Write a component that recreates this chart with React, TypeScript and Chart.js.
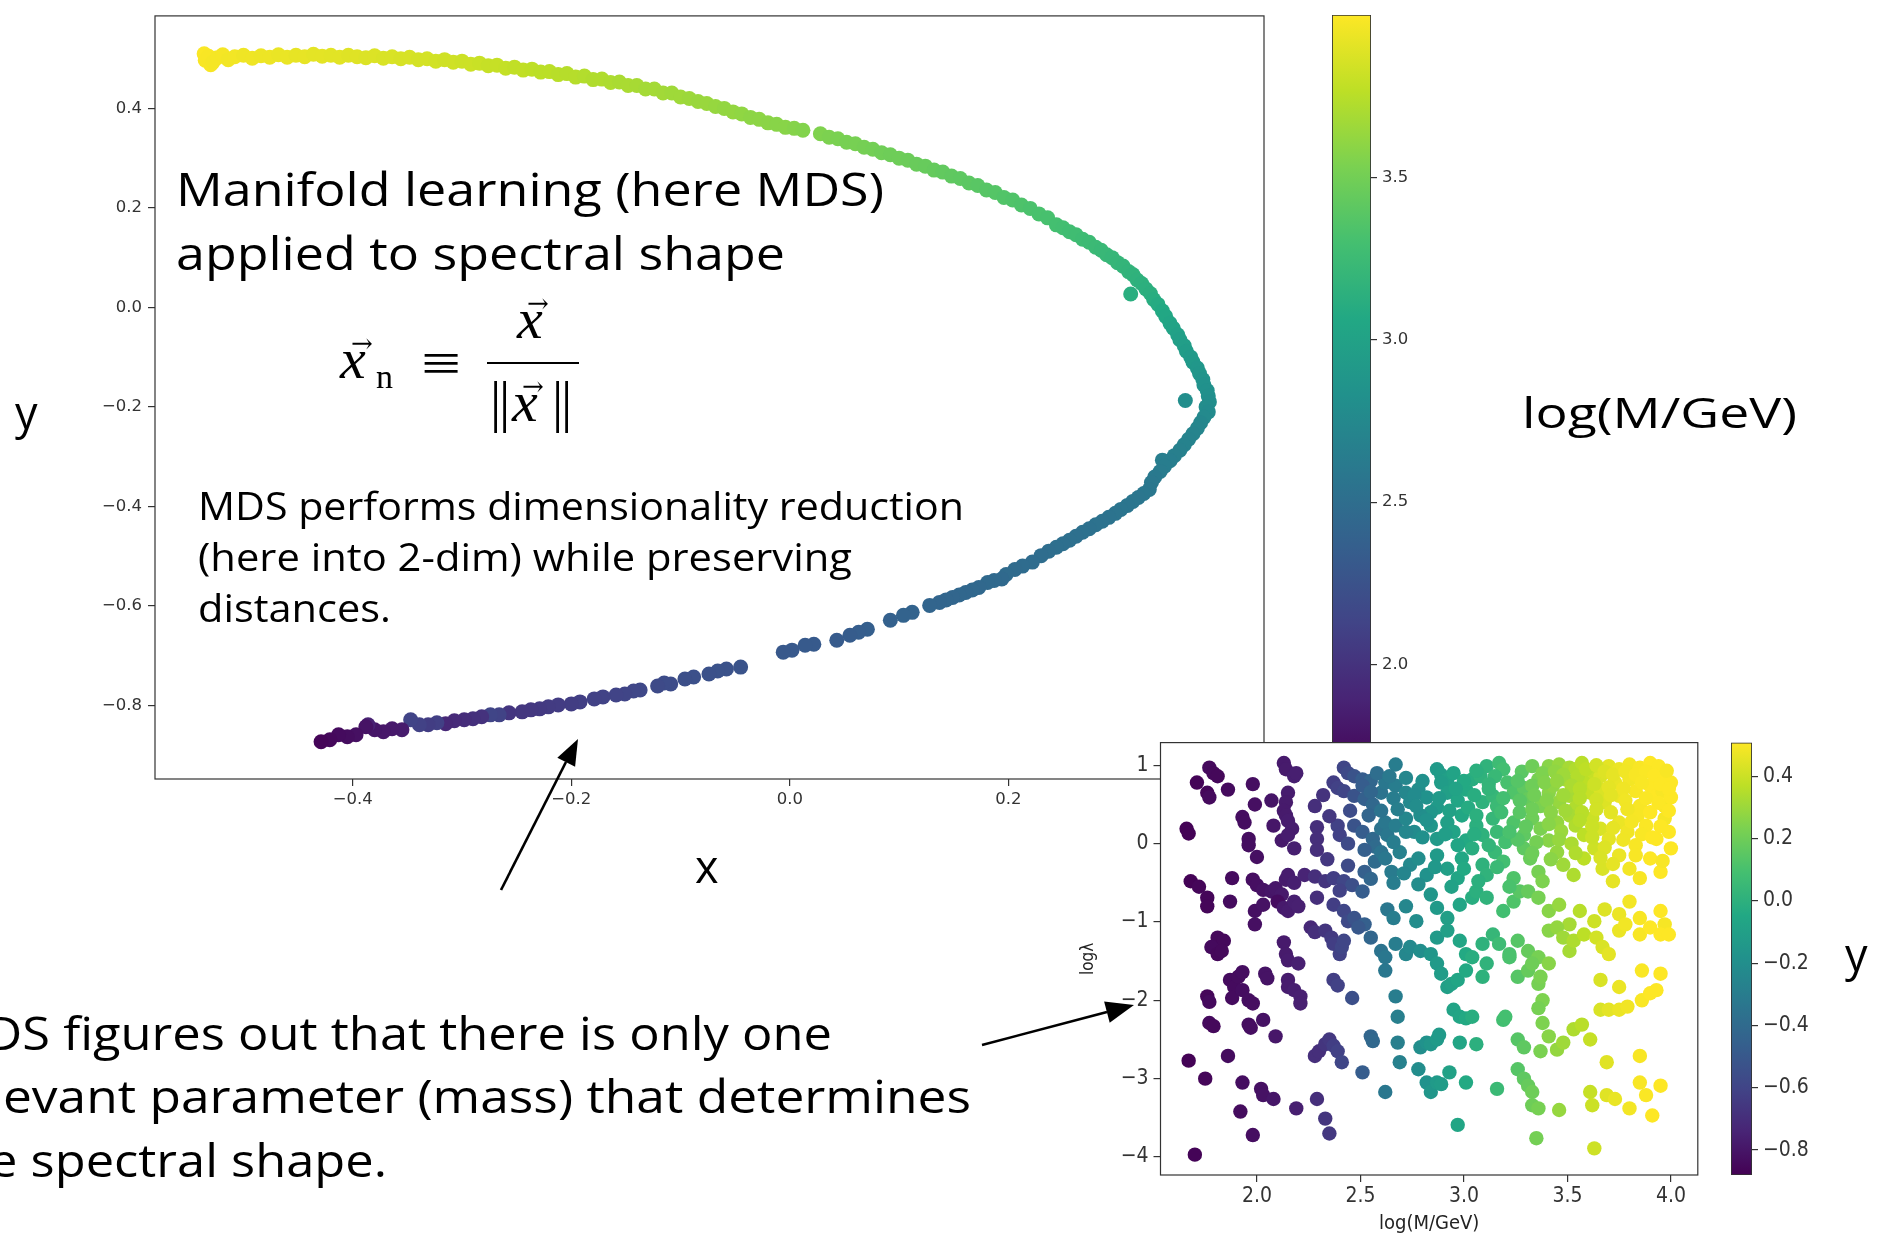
import React, { useEffect, useRef } from 'react';
import { Chart, registerables } from 'chart.js';
Chart.register(...registerables);

// ---------- DATA ----------
// MDS embedding: [x, y, log(M/GeV)]
const mdsPoints: [number, number, number][] = [
  [-0.536,0.510,3.99],[-0.535,0.497,3.98],[-0.532,0.505,3.98],[-0.530,0.488,3.98],[-0.528,0.493,3.97],[-0.524,0.502,3.97],[-0.519,0.508,3.97],[-0.514,0.498,3.96],[-0.508,0.504,3.96],[-0.500,0.507,3.95],
  [-0.492,0.501,3.95],[-0.484,0.506,3.94],[-0.476,0.503,3.94],[-0.468,0.508,3.93],[-0.460,0.503,3.93],[-0.452,0.507,3.92],[-0.444,0.504,3.92],[-0.436,0.509,3.91],[-0.428,0.505,3.91],[-0.420,0.507,3.90],
  [-0.412,0.503,3.90],[-0.404,0.507,3.89],[-0.396,0.504,3.89],[-0.388,0.502,3.88],[-0.380,0.506,3.88],[-0.372,0.501,3.87],[-0.364,0.504,3.87],[-0.356,0.500,3.86],[-0.348,0.503,3.86],[-0.340,0.498,3.85],
  [-0.332,0.500,3.85],[-0.324,0.495,3.84],[-0.316,0.498,3.83],[-0.308,0.493,3.83],[-0.300,0.495,3.82],[-0.292,0.489,3.82],[-0.284,0.491,3.81],[-0.276,0.486,3.80],[-0.268,0.487,3.80],[-0.260,0.481,3.79],
  [-0.252,0.483,3.78],[-0.244,0.477,3.78],[-0.236,0.479,3.77],[-0.228,0.473,3.76],[-0.220,0.474,3.76],[-0.212,0.468,3.75],[-0.204,0.470,3.74],[-0.196,0.463,3.74],[-0.188,0.465,3.73],[-0.180,0.458,3.72],
  [-0.172,0.459,3.72],[-0.164,0.452,3.71],[-0.156,0.453,3.70],[-0.148,0.446,3.70],[-0.140,0.446,3.69],[-0.132,0.439,3.68],[-0.124,0.439,3.68],[-0.116,0.431,3.67],[-0.108,0.431,3.66],[-0.100,0.423,3.66],
  [-0.092,0.420,3.65],[-0.084,0.414,3.64],[-0.076,0.410,3.64],[-0.068,0.404,3.63],[-0.060,0.400,3.62],[-0.052,0.393,3.62],[-0.044,0.389,3.61],[-0.036,0.382,3.60],[-0.028,0.378,3.60],[-0.020,0.371,3.59],
  [-0.012,0.368,3.58],[-0.004,0.362,3.58],[0.004,0.360,3.57],[0.012,0.356,3.56],[0.028,0.349,3.55],[0.036,0.342,3.54],[0.044,0.339,3.53],[0.052,0.332,3.52],[0.060,0.329,3.52],[0.068,0.322,3.51],
  [0.076,0.318,3.50],[0.084,0.311,3.49],[0.092,0.307,3.48],[0.100,0.300,3.48],[0.108,0.296,3.47],[0.116,0.288,3.46],[0.124,0.284,3.45],[0.132,0.276,3.44],[0.140,0.272,3.43],[0.148,0.264,3.42],
  [0.156,0.259,3.41],[0.164,0.250,3.40],[0.172,0.245,3.39],[0.180,0.236,3.38],[0.188,0.231,3.37],[0.196,0.221,3.36],[0.204,0.216,3.35],[0.212,0.206,3.34],[0.220,0.199,3.33],[0.228,0.188,3.32],
  [0.236,0.180,3.31],[0.244,0.166,3.30],[0.250,0.160,3.29],[0.256,0.152,3.28],[0.262,0.146,3.27],[0.268,0.137,3.26],[0.274,0.131,3.25],[0.280,0.121,3.24],[0.285,0.115,3.23],[0.290,0.106,3.22],
  [0.295,0.100,3.21],[0.300,0.090,3.20],[0.305,0.083,3.19],[0.310,0.072,3.18],[0.314,0.066,3.17],[0.318,0.055,3.16],[0.322,0.048,3.15],[0.326,0.037,3.14],[0.330,0.028,3.13],[0.312,0.027,3.12],
  [0.333,0.016,3.11],[0.337,0.006,3.09],[0.341,-0.007,3.07],[0.344,-0.018,3.05],[0.348,-0.032,3.03],[0.351,-0.042,3.01],[0.355,-0.055,2.99],[0.357,-0.065,2.97],[0.361,-0.077,2.96],[0.363,-0.088,2.94],
  [0.367,-0.100,2.92],[0.369,-0.110,2.91],[0.373,-0.122,2.89],[0.375,-0.133,2.88],[0.378,-0.145,2.86],[0.379,-0.156,2.84],[0.382,-0.167,2.83],[0.383,-0.178,2.82],[0.384,-0.190,2.80],[0.362,-0.187,2.80],
  [0.381,-0.200,2.79],[0.383,-0.210,2.77],[0.379,-0.221,2.76],[0.376,-0.232,2.74],[0.373,-0.243,2.73],[0.369,-0.254,2.71],[0.365,-0.265,2.70],[0.361,-0.276,2.69],[0.357,-0.287,2.68],[0.352,-0.298,2.66],
  [0.348,-0.308,2.65],[0.341,-0.307,2.65],[0.343,-0.319,2.64],[0.339,-0.330,2.63],[0.334,-0.341,2.61],[0.331,-0.352,2.60],[0.329,-0.366,2.59],[0.324,-0.374,2.59],[0.319,-0.382,2.58],[0.314,-0.390,2.58],
  [0.309,-0.398,2.57],[0.303,-0.406,2.57],[0.298,-0.414,2.56],[0.292,-0.422,2.55],[0.286,-0.430,2.54],[0.280,-0.437,2.54],[0.274,-0.445,2.53],[0.268,-0.452,2.53],[0.262,-0.460,2.52],[0.256,-0.468,2.52],
  [0.250,-0.475,2.51],[0.244,-0.482,2.51],[0.237,-0.490,2.50],[0.230,-0.499,2.49],[0.222,-0.512,2.48],[0.213,-0.520,2.48],[0.206,-0.527,2.47],[0.198,-0.537,2.47],[0.194,-0.546,2.46],[0.187,-0.549,2.46],
  [0.181,-0.553,2.46],[0.173,-0.563,2.45],[0.167,-0.568,2.45],[0.161,-0.573,2.44],[0.155,-0.578,2.44],[0.149,-0.583,2.43],[0.143,-0.588,2.43],[0.137,-0.593,2.42],[0.128,-0.599,2.42],[0.112,-0.613,2.40],
  [0.104,-0.619,2.40],[0.092,-0.629,2.38],[0.071,-0.647,2.36],[0.063,-0.653,2.35],[0.055,-0.659,2.34],[0.043,-0.669,2.33],[0.022,-0.677,2.32],[0.014,-0.679,2.32],[0.002,-0.689,2.31],[-0.006,-0.693,2.30],
  [-0.045,-0.723,2.26],[-0.058,-0.727,2.25],[-0.066,-0.731,2.25],[-0.074,-0.737,2.24],[-0.088,-0.743,2.23],[-0.096,-0.747,2.22],[-0.109,-0.757,2.20],[-0.115,-0.755,2.20],[-0.121,-0.761,2.18],[-0.137,-0.769,2.16],
  [-0.143,-0.771,2.15],[-0.151,-0.777,2.14],[-0.159,-0.779,2.13],[-0.171,-0.783,2.12],[-0.179,-0.787,2.11],[-0.192,-0.793,2.09],[-0.200,-0.797,2.08],[-0.212,-0.799,2.07],[-0.221,-0.803,2.06],[-0.229,-0.807,2.05],
  [-0.237,-0.809,2.04],[-0.245,-0.813,2.03],[-0.257,-0.815,2.02],[-0.266,-0.819,2.12],[-0.274,-0.819,2.14],[-0.282,-0.823,2.00],[-0.290,-0.827,1.98],[-0.298,-0.829,1.96],[-0.307,-0.831,1.94],[-0.315,-0.837,1.92],
  [-0.323,-0.835,2.10],[-0.331,-0.839,2.08],[-0.339,-0.839,2.11],[-0.347,-0.829,2.13],[-0.355,-0.849,1.84],[-0.364,-0.847,1.82],[-0.372,-0.853,1.81],[-0.380,-0.849,1.80],[-0.386,-0.839,1.88],[-0.388,-0.843,1.78],
  [-0.397,-0.859,1.76],[-0.405,-0.863,1.74],[-0.413,-0.859,1.73],[-0.421,-0.869,1.71],[-0.429,-0.873,1.69],
];

// Parameter scan: [log(M/GeV), log lambda]
const insetPoints: [number, number][] = [
  [1.71,0.78],[1.77,0.97],[1.79,0.90],[1.81,0.86],[2.13,1.03],[2.14,0.95],[2.18,0.86],[2.19,0.90],[2.42,0.97],[2.44,0.90],[2.47,0.86],[2.51,0.82],[2.55,0.80],[2.67,1.01],[2.87,0.95],[2.89,0.88],[2.92,0.82],[2.89,0.78],[3.11,0.99],[3.17,1.03],[3.19,0.95],[3.15,0.86],[3.41,0.99],[3.46,1.01],[3.51,0.97],[3.54,0.95],[3.57,1.03],[3.61,0.90],[3.66,0.86],[3.70,0.99],[3.75,0.95],[3.80,1.01],[3.85,0.97],[3.90,1.03],[3.94,0.99],[3.95,0.86],[4.00,0.78],
  [1.76,0.65],[1.77,0.59],[1.86,0.69],[1.98,0.76],[1.99,0.50],[2.07,0.55],[2.15,0.65],[2.14,0.53],[2.13,0.42],[2.28,0.48],[2.37,0.78],[2.39,0.71],[2.42,0.67],[2.47,0.61],[2.51,0.74],[2.52,0.57],[2.56,0.50],[2.60,0.65],[2.62,0.78],[2.67,0.74],[2.72,0.65],[2.74,0.53],[2.78,0.69],[2.82,0.59],[2.87,0.46],[2.84,0.40],[2.92,0.65],[2.97,0.55],[3.01,0.69],[3.04,0.82],[3.08,0.86],[3.09,0.53],[3.14,0.61],[3.16,0.48],[3.21,0.78],[3.24,0.65],[3.29,0.71],[3.31,0.57],[3.36,0.82],[3.37,0.48],[3.41,0.65],[3.43,0.74],[3.46,0.53],[3.49,0.82],[3.51,0.61],[3.54,0.46],[3.58,0.78],[3.61,0.65],[3.66,0.69],[3.68,0.53],[3.73,0.78],[3.75,0.61],[3.80,0.82],[3.83,0.67],[3.85,0.48],[3.90,0.74],[3.93,0.61],[3.96,0.67],[3.97,0.48],[4.00,0.59],
  [1.66,0.19],[1.67,0.13],[1.93,0.34],[1.94,0.27],[1.96,0.06],[1.96,-0.02],[2.00,-0.17],[2.08,0.23],[2.12,0.04],[2.14,0.36],[2.15,0.29],[2.17,0.19],[2.15,0.11],[2.18,-0.06],[2.29,0.21],[2.29,0.06],[2.29,-0.08],[2.39,0.23],[2.40,0.11],[2.44,0.00],[2.47,0.23],[2.51,0.15],[2.56,0.06],[2.57,-0.04],[2.60,0.19],[2.62,0.27],[2.63,0.11],[2.67,0.23],[2.72,0.32],[2.76,0.15],[2.79,0.36],[2.84,0.23],[2.87,0.06],[2.92,0.27],[2.95,0.15],[2.99,0.36],[3.01,0.04],[3.06,0.23],[3.09,0.11],[3.14,0.32],[3.16,0.15],[3.20,0.02],[3.24,0.27],[3.29,0.11],[3.33,0.32],[3.37,0.19],[3.41,0.04],[3.45,0.27],[3.51,0.36],[3.54,0.23],[3.58,0.11],[3.62,0.32],[3.66,0.19],[3.70,0.06],[3.75,0.27],[3.79,0.15],[3.84,0.36],[3.88,0.23],[3.93,0.06],[3.97,0.32],[3.99,0.15],
  [1.68,-0.48],[1.72,-0.55],[1.88,-0.44],[1.98,-0.46],[2.00,-0.53],[2.03,-0.59],[2.07,-0.61],[2.09,-0.57],[2.12,-0.65],[2.14,-0.46],[2.15,-0.40],[2.18,-0.50],[2.23,-0.40],[2.28,-0.42],[2.33,-0.48],[2.37,-0.44],[2.42,-0.48],[2.46,-0.53],[2.51,-0.61],[2.52,-0.36],[2.57,-0.23],[2.60,-0.11],[2.62,-0.19],[2.65,-0.36],[2.69,-0.11],[2.74,-0.27],[2.78,-0.19],[2.82,-0.40],[2.87,-0.15],[2.92,-0.32],[2.97,-0.44],[2.99,-0.19],[3.04,-0.06],[3.09,-0.27],[3.11,-0.40],[3.15,-0.11],[3.19,-0.23],[3.24,-0.44],[3.29,-0.06],[3.32,-0.19],[3.36,-0.36],[3.38,-0.48],[3.45,-0.11],[3.48,-0.27],[3.53,-0.40],[3.58,-0.19],[3.63,-0.06],[3.67,-0.32],[3.72,-0.48],[3.75,-0.15],[3.80,-0.32],[3.85,-0.44],[3.90,-0.19],[3.95,-0.36],[4.00,-0.06],
  [1.76,-0.69],[1.76,-0.80],[1.87,-0.74],[1.99,-0.86],[2.03,-0.78],[2.10,-0.74],[2.13,-0.82],[2.15,-0.86],[2.18,-0.74],[2.20,-0.80],[1.99,-1.03],[2.29,-0.69],[2.37,-0.78],[2.42,-0.86],[2.44,-0.99],[2.47,-0.95],[2.52,-1.03],[2.63,-0.84],[2.66,-0.95],[2.72,-0.80],[2.77,-0.99],[2.84,-0.65],[2.87,-0.82],[2.92,-0.95],[2.98,-0.78],[3.04,-0.69],[3.06,-0.61],[3.11,-0.69],[3.19,-0.86],[3.24,-0.74],[3.27,-0.61],[3.31,-0.61],[3.36,-0.69],[3.41,-0.86],[3.46,-0.78],[3.51,-1.03],[3.56,-0.86],[3.63,-0.99],[3.68,-0.84],[3.75,-0.90],[3.80,-0.74],[3.85,-0.95],[3.95,-0.86],[3.97,-1.03],
  [1.81,-1.20],[1.84,-1.24],[1.78,-1.32],[1.81,-1.41],[1.83,-1.37],[2.13,-1.26],[2.14,-1.41],[2.15,-1.49],[2.20,-1.53],[2.26,-1.07],[2.28,-1.13],[2.33,-1.11],[2.36,-1.20],[2.37,-1.28],[2.40,-1.41],[2.41,-1.32],[2.42,-1.24],[2.49,-1.07],[2.55,-1.20],[2.60,-1.37],[2.62,-1.45],[2.67,-1.28],[2.72,-1.41],[2.74,-1.32],[2.79,-1.37],[2.84,-1.41],[2.87,-1.20],[2.92,-1.11],[2.98,-1.24],[3.01,-1.41],[3.09,-1.28],[3.04,-1.45],[3.14,-1.16],[3.17,-1.28],[3.22,-1.41],[3.26,-1.24],[3.31,-1.37],[3.36,-1.45],[3.41,-1.11],[3.45,-1.07],[3.48,-1.20],[3.51,-1.37],[3.53,-1.24],[3.58,-1.16],[3.64,-1.20],[3.67,-1.32],[3.70,-1.41],[3.75,-1.11],[3.78,-1.03],[3.85,-1.16],[3.90,-1.07],[3.95,-1.16],[3.99,-1.16],
  [1.87,-1.74],[1.89,-1.83],[1.91,-1.70],[1.93,-1.64],[1.76,-1.95],[1.77,-2.02],[1.88,-1.97],[1.93,-1.87],[1.96,-2.00],[1.98,-2.04],[2.04,-1.66],[2.05,-1.72],[2.15,-1.74],[2.15,-1.83],[2.18,-1.87],[2.21,-1.95],[2.21,-2.04],[2.37,-1.74],[2.39,-1.81],[2.46,-1.97],[2.62,-1.62],[2.67,-1.95],[2.87,-1.53],[2.89,-1.66],[2.92,-1.83],[2.94,-1.79],[2.97,-1.74],[3.01,-1.62],[3.09,-1.70],[3.11,-1.53],[3.22,-1.45],[3.26,-1.70],[3.31,-1.62],[3.33,-1.53],[3.36,-1.79],[3.37,-1.70],[3.38,-2.00],[3.41,-1.53],[3.66,-1.74],[3.75,-1.83],[3.86,-1.62],[3.86,-2.00],[3.90,-1.91],[3.93,-1.87],[3.95,-1.66],
  [1.77,-2.29],[1.79,-2.33],[1.86,-2.71],[1.96,-2.31],[1.97,-2.35],[2.03,-2.25],[2.09,-2.46],[2.28,-2.71],[2.30,-2.65],[2.33,-2.56],[2.35,-2.50],[2.37,-2.58],[2.39,-2.65],[2.41,-2.79],[2.55,-2.46],[2.56,-2.52],[2.68,-2.21],[2.68,-2.54],[2.69,-2.79],[2.79,-2.60],[2.82,-2.54],[2.84,-2.56],[2.87,-2.50],[2.88,-2.44],[2.95,-2.12],[2.98,-2.21],[3.01,-2.23],[3.04,-2.21],[2.98,-2.54],[3.06,-2.56],[3.19,-2.25],[3.20,-2.21],[3.26,-2.50],[3.29,-2.60],[3.37,-2.65],[3.38,-2.29],[3.41,-2.46],[3.36,-2.10],[3.45,-2.63],[3.48,-2.54],[3.53,-2.37],[3.57,-2.31],[3.61,-2.50],[3.66,-2.12],[3.70,-2.12],[3.75,-2.12],[3.79,-2.08],[3.69,-2.79],[3.85,-2.71],
  [1.67,-2.77],[1.75,-3.00],[1.93,-3.05],[2.02,-3.13],[2.03,-3.21],[2.08,-3.26],[2.19,-3.38],[1.92,-3.42],[1.98,-3.72],[1.70,-3.97],[2.29,-3.26],[2.33,-3.51],[2.35,-3.70],[2.51,-2.92],[2.62,-3.17],[2.78,-2.88],[2.82,-3.05],[2.84,-3.17],[2.87,-3.05],[2.89,-3.07],[2.93,-2.92],[3.01,-3.05],[2.97,-3.59],[3.16,-3.13],[3.26,-2.88],[3.29,-3.00],[3.31,-3.09],[3.33,-3.17],[3.33,-3.34],[3.36,-3.38],[3.35,-3.76],[3.46,-3.40],[3.61,-3.17],[3.62,-3.34],[3.69,-3.21],[3.73,-3.26],[3.80,-3.38],[3.85,-3.05],[3.88,-3.21],[3.91,-3.47],[3.95,-3.09],[3.63,-3.89],
  // densely populated high-mass / large-lambda corner
  [3.28,0.92],[3.33,0.99],[3.38,0.90],[3.44,0.92],[3.48,0.88],[3.55,0.86],[3.59,0.95],[3.64,1.00],[3.68,0.92],[3.72,0.88],[3.78,0.92],[3.83,0.88],[3.88,0.92],[3.92,0.87],[3.98,0.93],
  [3.26,0.80],[3.33,0.74],[3.39,0.78],[3.45,0.80],[3.52,0.74],[3.56,0.70],[3.63,0.76],[3.70,0.72],[3.77,0.70],[3.86,0.78],[3.95,0.76],[3.99,0.70],
  [3.27,0.55],[3.34,0.62],[3.40,0.55],[3.48,0.62],[3.56,0.58],[3.64,0.56],[3.71,0.62],[3.78,0.55],[3.88,0.58],[3.94,0.52],
  [3.27,0.40],[3.33,0.44],[3.42,0.40],[3.49,0.42],[3.57,0.40],[3.64,0.44],[3.71,0.40],[3.79,0.44],[3.90,0.40],[3.99,0.42],
  [3.30,0.22],[3.41,0.25],[3.47,0.16],[3.56,0.30],[3.62,0.22],[3.72,0.20],[3.81,0.28],[3.86,0.12],[3.95,0.22],
  [3.26,0.05],[3.35,0.02],[3.46,0.05],[3.52,0.00],[3.62,0.08],[3.68,-0.05],[3.77,0.05],[3.83,-0.02],[3.91,0.08],
  [3.33,-0.12],[3.42,-0.20],[3.54,-0.12],[3.66,-0.18],[3.72,-0.26],[3.83,-0.15],[3.96,-0.22],
  [2.58,0.90],[2.64,0.86],[2.72,0.84],[2.80,0.80],[2.95,0.90],[3.00,0.80],[3.06,0.93],[3.12,0.76],
  [2.55,0.66],[2.66,0.58],[2.76,0.62],[2.88,0.58],[2.96,0.70],[3.05,0.62],[3.12,0.70],[3.19,0.58],
  [2.54,0.36],[2.60,0.42],[2.68,0.44],[2.77,0.48],[2.82,0.30],[2.93,0.42],[3.02,0.46],[3.06,0.36],[3.18,0.40],
  [2.52,-0.08],[2.66,0.02],[2.72,0.15],[2.80,0.08],[2.91,0.12],[2.97,-0.02],[3.05,0.12],[3.12,-0.02],[3.22,0.15],
  [2.55,-0.45],[2.66,-0.50],[2.71,-0.38],[2.78,-0.52],[2.86,-0.30],[2.94,-0.55],[3.00,-0.32],[3.07,-0.48],[3.16,-0.30],[3.22,-0.55],
  [2.32,0.62],[2.35,0.35],[2.45,0.42],[2.34,-0.20],[2.44,-0.28],[2.40,-0.60],
];

const mainXTicks = [-0.4, -0.2, 0.0, 0.2, 0.4];
const mainYTicks = [-0.8, -0.6, -0.4, -0.2, 0.0, 0.2, 0.4];
const massBarTicks = [2.0, 2.5, 3.0, 3.5];
const insetXTicks = [2.0, 2.5, 3.0, 3.5, 4.0];
const insetYTicks = [-4, -3, -2, -1, 0, 1];
const yBarTicks = [-0.8, -0.6, -0.4, -0.2, 0.0, 0.2, 0.4];

const massRange: [number, number] = [1.66, 4.0];
const mdsYRange: [number, number] = [-0.88, 0.508];

// ---------- STYLE HELPERS ----------
const VIRIDIS = ['#440154', '#482475', '#414487', '#355f8d', '#2a788e', '#21918c', '#22a884', '#44bf70', '#7ad151', '#bddf26', '#fde725'];
const hex = (h: string) => [parseInt(h.slice(1, 3), 16), parseInt(h.slice(3, 5), 16), parseInt(h.slice(5, 7), 16)];
function viridis(t: number): string {
  const c = Math.min(1, Math.max(0, t)) * 10;
  const i = Math.min(9, Math.floor(c));
  const f = c - i;
  const a = hex(VIRIDIS[i]);
  const b = hex(VIRIDIS[i + 1]);
  return `rgb(${Math.round(a[0] + (b[0] - a[0]) * f)},${Math.round(a[1] + (b[1] - a[1]) * f)},${Math.round(a[2] + (b[2] - a[2]) * f)})`;
}
const norm = (v: number, r: [number, number]) => (v - r[0]) / (r[1] - r[0]);
// inset colour = MDS y of the sample with the same mass
function mdsYForMass(m: number): number {
  let best = mdsPoints[0];
  for (const p of mdsPoints) if (Math.abs(p[2] - m) < Math.abs(best[2] - m)) best = p;
  return best[1];
}
const fmt1 = (v: number) => (Math.abs(v) < 1e-9 ? '0.0' : v.toFixed(1).replace('-', '\u2212'));
const fmt0 = (v: number) => String(Math.round(v)).replace('-', '\u2212');
const setTicks = (arr: number[]) => (scale: any) => { scale.ticks = arr.map((v) => ({ value: v })); };

const framePlugin = {
  id: 'frame',
  afterDraw(chart: any) {
    const { ctx, chartArea: a } = chart;
    ctx.save();
    ctx.strokeStyle = '#333';
    ctx.lineWidth = 1.2;
    ctx.strokeRect(a.left, a.top, a.right - a.left, a.bottom - a.top);
    ctx.restore();
  },
};
const whiteAreaPlugin = {
  id: 'whiteArea',
  beforeDraw(chart: any) {
    const { ctx, chartArea: a } = chart;
    ctx.save();
    ctx.fillStyle = '#fff';
    ctx.fillRect(a.left, a.top, a.right - a.left, a.bottom - a.top);
    ctx.restore();
  },
};

const TICK_FONT_MAIN = { family: '"DejaVu Sans"', size: 16.5 };
const TICK_FONT_INSET = { family: '"DejaVu Sans Condensed", "DejaVu Sans"', size: 21 };

function gridTicks(len: number) {
  return { display: true, drawOnChartArea: false, drawTicks: true, tickLength: len, color: '#333', lineWidth: 1.2 };
}

function mainConfig(): any {
  return {
    type: 'scatter',
    data: {
      datasets: [{
        data: mdsPoints.map(([x, y]) => ({ x, y })),
        pointBackgroundColor: mdsPoints.map((p) => viridis(norm(p[2], massRange))),
        pointBorderWidth: 0,
        pointRadius: 7.5,
        pointHoverRadius: 7.5,
      }],
    },
    options: {
      responsive: false, animation: false, events: [],
      layout: { padding: { left: 0, top: 10, right: 36, bottom: 21 } },
      plugins: { legend: { display: false }, tooltip: { enabled: false } },
      scales: {
        x: {
          type: 'linear', min: -0.581, max: 0.434,
          afterBuildTicks: setTicks(mainXTicks),
          afterFit: (s: any) => { s.height = 40; },
          grid: gridTicks(7), border: { display: false },
          ticks: { font: TICK_FONT_MAIN, color: '#333', padding: 4, autoSkip: false, maxRotation: 0, callback: (v: number) => fmt1(v) },
        },
        y: {
          type: 'linear', min: -0.948, max: 0.586,
          afterBuildTicks: setTicks(mainYTicks),
          afterFit: (s: any) => { s.width = 155; },
          grid: gridTicks(7), border: { display: false },
          ticks: { font: TICK_FONT_MAIN, color: '#333', padding: 6, autoSkip: false, callback: (v: number) => fmt1(v) },
        },
      },
    },
    plugins: [framePlugin],
  };
}

function colorbarConfig(range: [number, number], ticks: number[], axisWidth: number, pad: any, font: any, fmt: (v: number) => string): any {
  return {
    type: 'bar',
    data: {
      labels: ['c'],
      datasets: [{
        data: [[range[0], range[1]]],
        backgroundColor: (c: any) => {
          const ch = c.chart;
          const ys = ch.scales && ch.scales.y;
          if (!ch.chartArea || !ys) return VIRIDIS[5];
          const g = ch.ctx.createLinearGradient(0, ys.getPixelForValue(range[0]), 0, ys.getPixelForValue(range[1]));
          VIRIDIS.forEach((col, k) => g.addColorStop(k / 10, col));
          return g;
        },
        borderColor: '#333', borderWidth: 1.2, borderSkipped: false,
        barPercentage: 1, categoryPercentage: 1,
      }],
    },
    options: {
      responsive: false, animation: false, events: [],
      layout: { padding: pad },
      plugins: { legend: { display: false }, tooltip: { enabled: false } },
      scales: {
        x: { display: false },
        y: {
          position: 'right', min: range[0], max: range[1],
          afterBuildTicks: setTicks(ticks),
          afterFit: (s: any) => { s.width = axisWidth; },
          grid: gridTicks(6), border: { display: false },
          ticks: { font, color: '#333', padding: 5, autoSkip: false, callback: (v: number) => fmt(v) },
        },
      },
    },
  };
}

function insetConfig(): any {
  return {
    type: 'scatter',
    data: {
      datasets: [{
        data: insetPoints.map(([m, l]) => ({ x: m, y: l })),
        pointBackgroundColor: insetPoints.map((p) => viridis(norm(mdsYForMass(p[0]), mdsYRange))),
        pointBorderWidth: 0,
        pointRadius: 7.2,
        pointHoverRadius: 7.2,
      }],
    },
    options: {
      responsive: false, animation: false, events: [],
      layout: { padding: { left: 0, top: 12, right: 7, bottom: 0 } },
      plugins: { legend: { display: false }, tooltip: { enabled: false } },
      scales: {
        x: {
          type: 'linear', min: 1.534, max: 4.13,
          afterBuildTicks: setTicks(insetXTicks),
          afterFit: (s: any) => { s.height = 64; },
          grid: gridTicks(7), border: { display: false },
          ticks: { font: TICK_FONT_INSET, color: '#333', padding: 2, autoSkip: false, maxRotation: 0, callback: (v: number) => fmt1(v) },
          title: { display: true, text: 'log(M/GeV)', color: '#222', font: { family: '"DejaVu Sans Condensed", "DejaVu Sans"', size: 20 }, padding: { top: 0, bottom: 3 } },
        },
        y: {
          type: 'linear', min: -4.23, max: 1.29,
          afterBuildTicks: setTicks(insetYTicks),
          afterFit: (s: any) => { s.width = 85.5; },
          grid: gridTicks(7), border: { display: false },
          ticks: { font: TICK_FONT_INSET, color: '#333', padding: 5, autoSkip: false, callback: (v: number) => fmt0(v) },
          title: { display: true, text: 'log\u03bb', color: '#222', font: { family: '"DejaVu Sans Condensed", "DejaVu Sans"', size: 17 }, padding: { top: 3, bottom: 0 } },
        },
      },
    },
    plugins: [whiteAreaPlugin, framePlugin],
  };
}

function ChartBox({ left, top, width, height, z, config }: { left: number; top: number; width: number; height: number; z: number; config: () => any }) {
  const ref = useRef<HTMLCanvasElement | null>(null);
  useEffect(() => {
    if (!ref.current) return;
    const chart = new Chart(ref.current, config());
    return () => chart.destroy();
  }, []);
  return (
    <canvas ref={ref} width={width} height={height}
      style={{ position: 'absolute', left, top, width, height, zIndex: z }} />
  );
}

const SANS = "'Open Sans'";
const SERIF = "'Liberation Serif'";
const ARROWF = "'DejaVu Serif'";

export default function App() {
  return (
    <div style={{ position: 'absolute', left: 0, top: 0, width: 1879, height: 1239, overflow: 'hidden', background: '#fff' }}>
      <ChartBox left={0} top={0} width={1300} height={840} z={1} config={mainConfig} />
      <ChartBox left={1320} top={0} width={130} height={790} z={1}
        config={() => colorbarConfig(massRange, massBarTicks, 79, { left: 12, top: 10, right: 0, bottom: 11 }, TICK_FONT_MAIN, fmt1)} />
      <ChartBox left={1075} top={725} width={630} height={514} z={2} config={insetConfig} />
      <ChartBox left={1720} top={725} width={110} height={470} z={2}
        config={() => colorbarConfig(mdsYRange, yBarTicks, 78, { left: 11, top: 14, right: 0, bottom: 20 }, TICK_FONT_INSET, fmt1)} />
      <svg width={1879} height={1239} style={{ position: 'absolute', left: 0, top: 0, zIndex: 5, pointerEvents: 'none' }}>
        <g fontFamily={SANS} fill="#000">
          <text x={15} y={429} fontSize={45}>y</text>
          <text x={695} y={883} fontSize={45}>x</text>
          <text x={1845} y={971} fontSize={45}>y</text>
          <text x={1522} y={428} fontSize={42} textLength={275} lengthAdjust="spacingAndGlyphs">log(M/GeV)</text>

          <text x={176} y={206} fontSize={46} textLength={708} lengthAdjust="spacingAndGlyphs">Manifold learning (here MDS)</text>
          <text x={176} y={270} fontSize={46} textLength={609} lengthAdjust="spacingAndGlyphs">applied to spectral shape</text>

          <text x={198} y={520} fontSize={38} textLength={766} lengthAdjust="spacingAndGlyphs">MDS performs dimensionality reduction</text>
          <text x={198} y={571} fontSize={38} textLength={654} lengthAdjust="spacingAndGlyphs">(here into 2-dim) while preserving</text>
          <text x={198} y={622} fontSize={38} textLength={193} lengthAdjust="spacingAndGlyphs">distances.</text>

          <text x={-60} y={1050} fontSize={46} textLength={892} lengthAdjust="spacingAndGlyphs">MDS figures out that there is only one</text>
          <text x={-60} y={1113} fontSize={46} textLength={1031} lengthAdjust="spacingAndGlyphs">relevant parameter (mass) that determines</text>
          <text x={-60} y={1177} fontSize={46} textLength={447} lengthAdjust="spacingAndGlyphs">the spectral shape.</text>
        </g>

        {/* formula: x_n = x / ||x|| */}
        <g fill="#000">
          <text x={340} y={378} fontFamily={SERIF} fontStyle="italic" fontSize={58}>x</text>
          <text x={351} y={352} fontFamily={ARROWF} fontSize={26}>{'\u2192'}</text>
          <text x={376} y={388} fontFamily={SERIF} fontSize={34}>n</text>
          <text x={421} y={382} fontFamily={SERIF} fontSize={56} textLength={40} lengthAdjust="spacingAndGlyphs">{'\u2261'}</text>
          <line x1={487} y1={363} x2={579} y2={363} stroke="#000" strokeWidth={1.8} />
          <text x={517} y={338} fontFamily={SERIF} fontStyle="italic" fontSize={58}>x</text>
          <text x={527} y={312} fontFamily={ARROWF} fontSize={26}>{'\u2192'}</text>
          <text x={490} y={421} fontFamily={SERIF} fontSize={56}>|</text>
          <text x={499} y={421} fontFamily={SERIF} fontSize={56}>|</text>
          <text x={512} y={421} fontFamily={SERIF} fontStyle="italic" fontSize={58}>x</text>
          <text x={522} y={395} fontFamily={ARROWF} fontSize={26}>{'\u2192'}</text>
          <text x={552} y={421} fontFamily={SERIF} fontSize={56}>|</text>
          <text x={561} y={421} fontFamily={SERIF} fontSize={56}>|</text>
        </g>

        {/* arrows */}
        <line x1={501} y1={890} x2={566} y2={762} stroke="#000" strokeWidth={2.6} />
        <polygon points="578,739 575.1,766.7 557.3,757.7" fill="#000" />
        <line x1={982} y1={1045} x2={1107} y2={1012} stroke="#000" strokeWidth={2.6} />
        <polygon points="1134,1005 1109.7,1022.7 1104.1,1001.5" fill="#000" />
      </svg>
    </div>
  );
}
